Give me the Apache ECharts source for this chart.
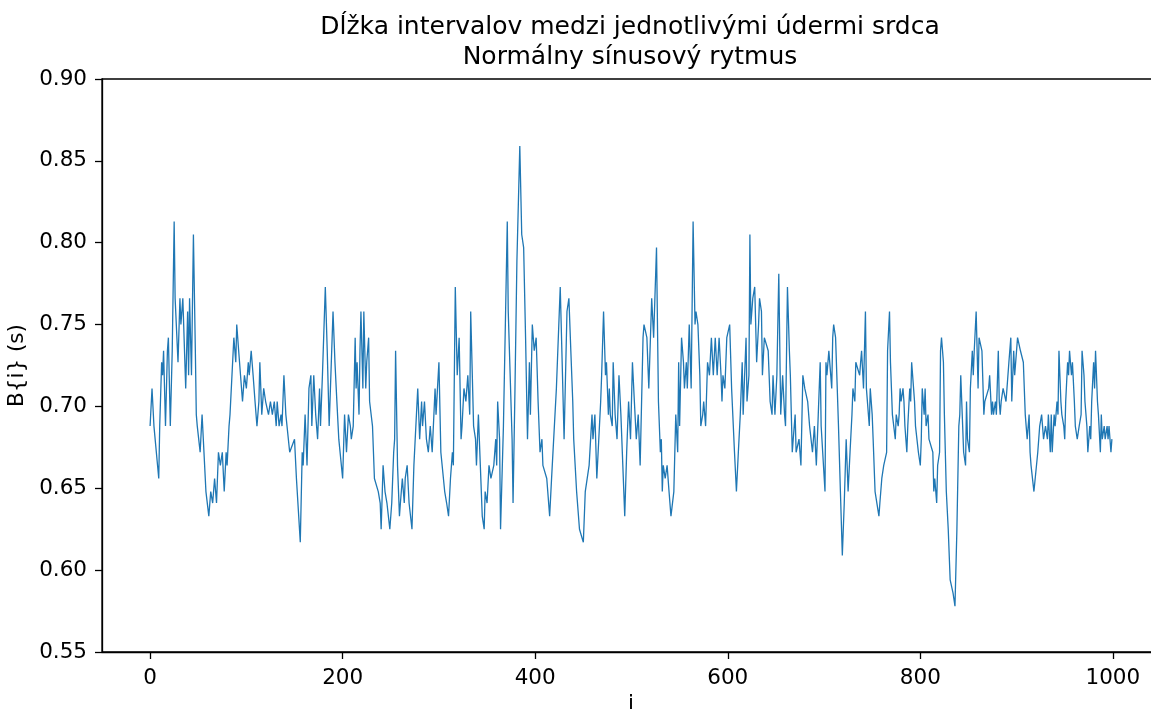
<!DOCTYPE html>
<html>
<head>
<meta charset="utf-8">
<script src="https://cdn.jsdelivr.net/npm/echarts@6/dist/echarts.min.js"></script>
<style>
html,body{margin:0;padding:0;background:#fff;}
#chart{width:1151px;height:709px;}
</style>
</head>
<body>
<div id="chart"></div>
<script>
// [beat index i, RR interval B{i} in seconds]
const rr000 = [[0,0.688],[2,0.711],[3,0.711],[4,0.688],[6,0.688],[9,0.656],[10,0.688],[12,0.727],[13,0.719],[14,0.734],[16,0.688],[18,0.734],[19,0.742],[21,0.688],[23,0.734],[25,0.813],[26,0.766],[29,0.727],[31,0.766],[32,0.750],[34,0.766],[36,0.766],[37,0.711],[39,0.758],[40,0.719],[41,0.766],[43,0.719],[45,0.805],[47,0.734],[48,0.695],[49,0.688],[52,0.672],[54,0.695],[56,0.695],[58,0.648],[61,0.633],[63,0.648],[65,0.641],[67,0.656],[69,0.641],[71,0.672],[73,0.664],[75,0.672],[77,0.648],[79,0.672],[80,0.664],[82,0.688],[83,0.695],[85,0.695],[87,0.742],[89,0.727],[90,0.750],[92,0.734],[93,0.734],[96,0.703],[98,0.719],[100,0.711],[102,0.727],[103,0.719],[105,0.734],[107,0.719],[109,0.703],[111,0.688],[113,0.703],[114,0.727],[116,0.695],[118,0.711],[120,0.703],[121,0.703],[123,0.695],[125,0.703],[127,0.695],[129,0.703],[131,0.688],[132,0.703],[134,0.688],[136,0.695],[137,0.688],[139,0.719],[141,0.695],[143,0.695],[145,0.672],[147,0.672],[150,0.680],[152,0.656],[154,0.656],[156,0.617],[158,0.672],[159,0.664],[161,0.695],[163,0.664],[165,0.711],[167,0.719],[168,0.688],[170,0.719],[172,0.695],[174,0.680],[176,0.711],[177,0.688],[179,0.719],[181,0.719],[182,0.773],[184,0.734],[186,0.688],[188,0.688],[190,0.758],[192,0.727],[194,0.703],[196,0.680],[198,0.680]];
const rr200 = [[200,0.656],[202,0.695],[204,0.672],[206,0.695],[208,0.688],[209,0.680],[211,0.688],[213,0.742],[214,0.711],[215,0.727],[217,0.695],[218,0.734],[219,0.758],[221,0.711],[222,0.758],[224,0.711],[225,0.727],[227,0.742],[228,0.703],[230,0.703],[231,0.688],[233,0.656],[235,0.656],[237,0.648],[239,0.641],[240,0.625],[242,0.664],[244,0.648],[246,0.641],[249,0.625],[251,0.641],[253,0.672],[254,0.680],[255,0.734],[257,0.664],[259,0.633],[260,0.641],[262,0.656],[264,0.641],[265,0.656],[267,0.664],[269,0.641],[272,0.625],[274,0.664],[276,0.664],[278,0.711],[280,0.680],[282,0.703],[283,0.688],[285,0.703],[287,0.680],[289,0.672],[291,0.688],[293,0.672],[296,0.711],[297,0.695],[300,0.727],[302,0.672],[304,0.672],[306,0.648],[308,0.641],[310,0.633],[312,0.656],[314,0.672],[315,0.664],[317,0.773],[319,0.719],[321,0.742],[323,0.680],[324,0.688],[326,0.711],[328,0.703],[330,0.719],[332,0.695],[333,0.758],[336,0.688],[338,0.680],[339,0.664],[341,0.695],[343,0.664],[345,0.633],[347,0.625],[348,0.648],[350,0.641],[352,0.664],[354,0.656],[357,0.664],[359,0.680],[360,0.664],[361,0.703],[363,0.680],[364,0.625],[367,0.688],[369,0.750],[371,0.813],[372,0.758],[374,0.758],[376,0.680],[377,0.641],[379,0.711],[381,0.789],[382,0.789],[384,0.859],[386,0.805],[388,0.797],[390,0.742],[392,0.680],[394,0.727],[395,0.695],[397,0.750],[399,0.734]];
const rr400 = [[401,0.742],[403,0.703],[405,0.672],[407,0.680],[408,0.664],[410,0.664],[412,0.656],[415,0.633],[417,0.656],[419,0.656],[422,0.711],[426,0.773],[428,0.727],[430,0.680],[433,0.758],[434,0.758],[435,0.766],[437,0.734],[439,0.703],[440,0.680],[443,0.648],[446,0.625],[448,0.625],[450,0.617],[452,0.648],[454,0.648],[456,0.664],[459,0.695],[460,0.680],[462,0.695],[464,0.656],[468,0.703],[469,0.719],[471,0.758],[473,0.719],[474,0.727],[476,0.695],[477,0.711],[478,0.695],[480,0.688],[481,0.727],[483,0.695],[485,0.680],[487,0.719],[489,0.695],[491,0.664],[493,0.633],[495,0.672],[497,0.703],[499,0.680],[501,0.727],[503,0.703],[505,0.680],[507,0.695],[509,0.664],[512,0.742],[513,0.750],[515,0.750],[516,0.742],[518,0.711],[521,0.766],[523,0.742],[525,0.742],[526,0.797],[528,0.703],[530,0.672],[531,0.680],[532,0.648],[533,0.664],[535,0.656],[537,0.664],[539,0.648],[541,0.633],[543,0.633],[544,0.648],[546,0.695],[548,0.672],[549,0.727],[550,0.688],[552,0.742],[554,0.727],[555,0.711],[557,0.727],[558,0.711],[560,0.750],[562,0.711],[564,0.813],[566,0.750],[567,0.758],[569,0.750],[571,0.719],[572,0.688],[574,0.695],[575,0.703],[577,0.688],[579,0.727],[581,0.719],[583,0.742],[585,0.719],[587,0.742],[589,0.719],[591,0.742],[593,0.719],[594,0.703],[595,0.719],[597,0.711],[599,0.742]];
const rr600 = [[601,0.742],[602,0.750],[604,0.711],[607,0.672],[609,0.648],[611,0.672],[613,0.695],[615,0.727],[616,0.695],[617,0.711],[619,0.742],[620,0.703],[622,0.719],[623,0.805],[624,0.750],[626,0.766],[628,0.773],[630,0.727],[632,0.750],[633,0.766],[635,0.758],[636,0.719],[638,0.742],[640,0.742],[642,0.734],[644,0.703],[646,0.695],[647,0.719],[649,0.695],[651,0.719],[653,0.781],[655,0.695],[657,0.719],[659,0.695],[660,0.688],[662,0.773],[664,0.734],[665,0.719],[667,0.672],[668,0.680],[670,0.695],[671,0.672],[674,0.680],[676,0.664],[678,0.719],[680,0.711],[682,0.711],[683,0.703],[685,0.688],[686,0.688],[688,0.672],[689,0.672],[690,0.688],[692,0.664],[694,0.695],[696,0.727],[697,0.688],[699,0.688],[701,0.648],[702,0.727],[703,0.719],[705,0.734],[706,0.734],[708,0.711],[709,0.742],[710,0.750],[712,0.742],[715,0.688],[717,0.648],[719,0.609],[721,0.641],[723,0.680],[725,0.648],[727,0.672],[729,0.695],[730,0.711],[732,0.703],[733,0.727],[735,0.727],[737,0.719],[738,0.727],[739,0.734],[741,0.711],[743,0.758],[744,0.711],[746,0.711],[747,0.688],[748,0.711],[750,0.695],[751,0.680],[753,0.648],[755,0.648],[757,0.633],[758,0.641],[760,0.656],[761,0.656],[762,0.664],[764,0.664],[765,0.672],[766,0.734],[768,0.758],[769,0.727],[771,0.695],[772,0.695],[774,0.680],[775,0.695],[777,0.688],[778,0.695],[779,0.711],[780,0.703],[782,0.711],[783,0.703],[784,0.688],[786,0.672],[787,0.688],[789,0.711],[790,0.703],[791,0.727],[793,0.711],[794,0.703],[795,0.688],[798,0.672]];
const rr800 = [[800,0.664],[801,0.680],[802,0.711],[804,0.695],[805,0.711],[806,0.688],[808,0.695],[809,0.680],[811,0.680],[813,0.672],[814,0.648],[815,0.656],[817,0.641],[818,0.664],[820,0.672],[821,0.734],[822,0.742],[824,0.727],[825,0.695],[827,0.648],[829,0.625],[831,0.594],[833,0.594],[834,0.586],[836,0.578],[838,0.625],[840,0.688],[841,0.695],[842,0.719],[844,0.719],[845,0.672],[847,0.664],[848,0.703],[849,0.680],[851,0.672],[852,0.711],[854,0.734],[855,0.719],[856,0.734],[858,0.758],[860,0.711],[861,0.742],[863,0.742],[864,0.734],[866,0.695],[867,0.703],[869,0.703],[871,0.711],[872,0.719],[874,0.695],[875,0.703],[876,0.695],[878,0.703],[879,0.695],[881,0.734],[882,0.703],[883,0.695],[884,0.703],[886,0.711],[888,0.711],[889,0.703],[891,0.703],[892,0.727],[894,0.742],[895,0.703],[897,0.734],[898,0.719],[899,0.719],[901,0.742],[902,0.742],[904,0.734],[905,0.734],[907,0.727],[909,0.695],[911,0.680],[913,0.695],[914,0.672],[915,0.664],[917,0.664],[918,0.648],[920,0.648],[922,0.672],[924,0.688],[926,0.695],[928,0.680],[930,0.688],[932,0.680],[933,0.695],[935,0.672],[936,0.695],[937,0.672],[939,0.695],[940,0.688],[942,0.703],[943,0.695],[944,0.734],[946,0.703],[947,0.695],[949,0.688],[950,0.680],[951,0.703],[953,0.727],[954,0.719],[955,0.734],[957,0.719],[958,0.727],[960,0.703],[961,0.688],[963,0.680],[965,0.688],[967,0.695],[968,0.734],[970,0.719],[971,0.703],[973,0.688],[974,0.672],[976,0.688],[977,0.680],[978,0.703],[980,0.727],[981,0.711],[982,0.734],[984,0.703],[985,0.695],[987,0.672],[988,0.695],[989,0.680],[991,0.688],[992,0.680],[994,0.688],[995,0.680],[996,0.688],[998,0.672],[999,0.680]];

const xTicks = [0, 200, 400, 600, 800, 1000];
const titleLines = ['Dĺžka intervalov medzi jednotlivými údermi srdca', 'Normálny sínusový rytmus'];
const xName = 'i';
const yName = 'B{i} (s)';

const seriesData = [].concat(rr000, rr200, rr400, rr600, rr800);
const FONT = 'DejaVu Sans';

const chart = echarts.init(document.getElementById('chart'), null, {renderer: 'canvas'});
chart.setOption({
  animation: false,
  backgroundColor: '#ffffff',
  title: {
    text: titleLines.join('\n'),
    left: 630,
    top: 12,
    padding: 0,
    textAlign: 'center',
    textStyle: {fontFamily: FONT, fontSize: 25, fontWeight: 'normal', color: '#000', lineHeight: 30}
  },
  grid: {
    left: 102, top: 79, width: 1058, height: 573,
    show: true, borderColor: '#000', borderWidth: 1.3, backgroundColor: 'transparent',
    containLabel: false, outerBoundsMode: 'none'
  },
  xAxis: {
    type: 'value',
    min: -49.95, max: 1048.95,
    name: xName, nameLocation: 'middle', nameGap: 40,
    nameTextStyle: {fontFamily: FONT, fontSize: 21.5, color: '#000'},
    axisLine: {show: true, onZero: false, lineStyle: {color: '#000', width: 1.3}},
    axisTick: {show: true, length: 7, inside: false, customValues: xTicks, lineStyle: {color: '#000', width: 1.3}},
    axisLabel: {show: true, margin: 15, customValues: xTicks, fontFamily: FONT, fontSize: 21.5, color: '#000',
      formatter: v => String(Math.round(v))},
    splitLine: {show: false}
  },
  yAxis: {
    type: 'value',
    min: 0.55, max: 0.90, interval: 0.05,
    name: yName, nameLocation: 'middle', nameGap: 68, nameRotate: 90,
    nameTextStyle: {fontFamily: FONT, fontSize: 21.5, color: '#000'},
    axisLine: {show: true, onZero: false, lineStyle: {color: '#000', width: 1.3}},
    axisTick: {show: true, length: 7, inside: false, lineStyle: {color: '#000', width: 1.3}},
    axisLabel: {show: true, margin: 15, fontFamily: FONT, fontSize: 21.5, color: '#000',
      formatter: v => v.toFixed(2)},
    splitLine: {show: false}
  },
  series: [{
    type: 'line',
    data: seriesData,
    showSymbol: false,
    symbol: 'none',
    sampling: null,
    clip: true,
    lineStyle: {color: '#1f77b4', width: 1.3},
    itemStyle: {color: '#1f77b4'}
  }]
});
</script>
</body>
</html>
